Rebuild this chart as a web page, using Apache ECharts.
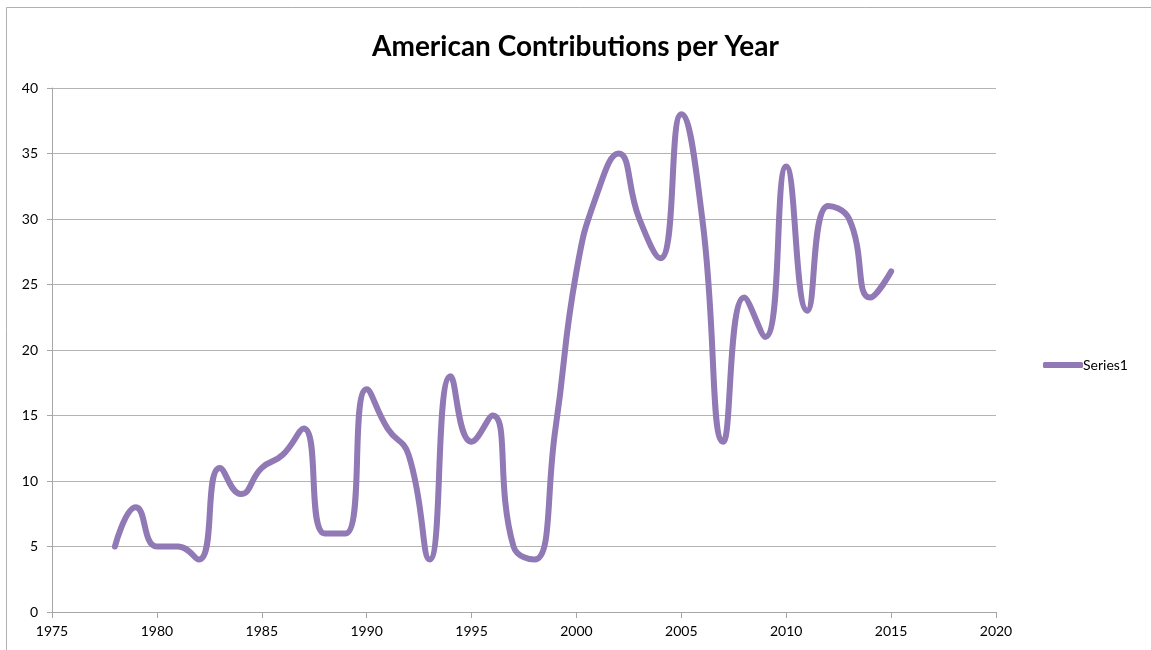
<!DOCTYPE html>
<html>
<head>
<meta charset="utf-8">
<script src="https://cdn.jsdelivr.net/npm/echarts@6/dist/echarts.min.js"></script>
<style>
html,body{margin:0;padding:0;background:#fff;}
#chart{width:1151px;height:650px;}
</style>
</head>
<body>
<div id="chart"></div>
<script>
var years = [1978,1979,1980,1981,1982,1983,1984,1985,1986,1987,1988,1989,1990,1991,1992,1993,1994,1995,1996,1997,1998,1999,2000,2001,2002,2003,2004,2005,2006,2007,2008,2009,2010,2011,2012,2013,2014,2015];
var series1 = [5,8,5,5,4,11,9,11,12,14,6,6,17,14,12,4,18,13,15,5,4,14,26,32,35,30,27,38,30,13,24,21,34,23,31,30,24,26];
var seriesName = 'Series1';
var chartTitle = 'American Contributions per Year';

var chart = echarts.init(document.getElementById('chart'));
var fontFam = 'Lato, "Open Sans", sans-serif';
chart.setOption({
  backgroundColor: '#fff',
  animation: false,
  title: {
    text: chartTitle,
    left: 'center',
    top: 28,
    textStyle: {fontFamily: fontFam, fontWeight: 'bold', fontSize: 28, color: '#000'}
  },
  legend: {
    left: 1038,
    top: 353,
    orient: 'vertical',
    itemWidth: 40,
    itemHeight: 6,
    icon: 'roundRect',
    data: [seriesName],
    textStyle: {fontFamily: fontFam, fontSize: 14, color: '#000', padding: [0,0,0,-5]}
  },
  graphic: [{
    type: 'rect',
    shape: {x: 6.5, y: 7.5, width: 1300, height: 800},
    style: {fill: 'none', stroke: '#b0b0b0', lineWidth: 1},
    silent: true
  }],
  grid: {left: 52, right: 155, top: 88, bottom: 38},
  xAxis: {
    type: 'value',
    min: 1975, max: 2020, interval: 5,
    axisLine: {show: true, lineStyle: {color: '#a6a6a6', width: 1}},
    axisTick: {show: true, length: 6, lineStyle: {color: '#a6a6a6'}},
    axisLabel: {margin: 12, fontFamily: fontFam, fontSize: 14, color: '#000', formatter: function(v){ return String(v); }},
    splitLine: {show: false}
  },
  yAxis: {
    type: 'value',
    min: 0, max: 40, interval: 5,
    axisLine: {show: true, lineStyle: {color: '#a6a6a6', width: 1}},
    axisTick: {show: true, length: 5, lineStyle: {color: '#a6a6a6'}},
    axisLabel: {margin: 14, fontFamily: fontFam, fontSize: 14, color: '#000'},
    splitLine: {show: true, lineStyle: {color: '#b3b3b3', width: 1}}
  },
  series: [{
    name: seriesName,
    type: 'line',
    data: years.map(function(y, i){ return [y, series1[i]]; }),
    smooth: 0.5,
    showSymbol: false,
    symbol: 'none',
    lineStyle: {color: '#9079b4', width: 6, cap: 'round', join: 'round'},
    itemStyle: {color: '#9079b4'}
  }]
});
</script>
</body>
</html>
